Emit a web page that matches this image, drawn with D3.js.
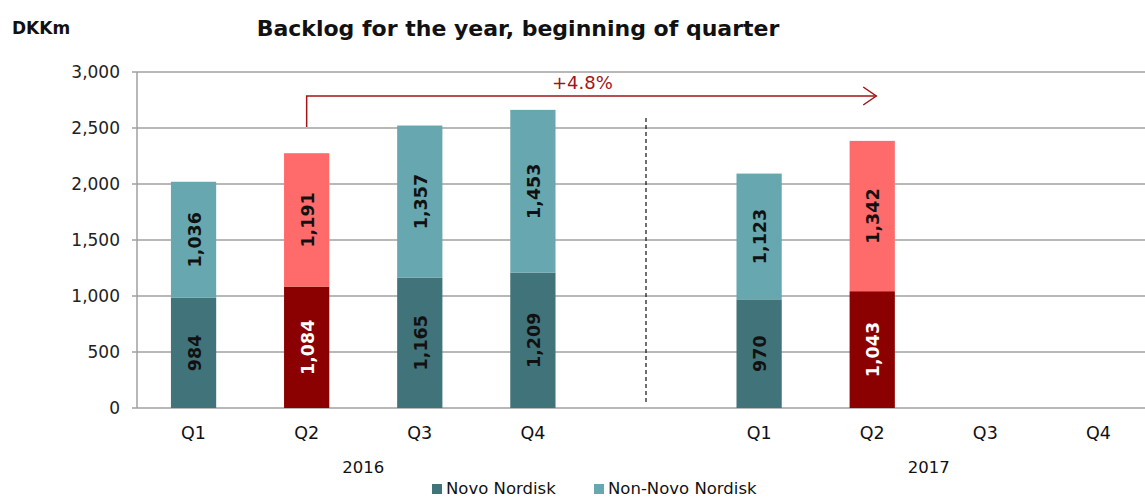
<!DOCTYPE html>
<html>
<head>
<meta charset="utf-8">
<script src="https://cdn.jsdelivr.net/npm/d3@7"></script>
<style>
  body { margin: 0; background: #fff; }
  svg { font-family: 'DejaVu Sans', Verdana, sans-serif; }
</style>
</head>
<body>
<svg width="1145" height="500"></svg>
<script>
const years = ['2016', '2017'];
const quarters = ['Q1', 'Q2', 'Q3', 'Q4'];
// slot keys, with an empty gap slot between the years
const slots = ['2016-Q1', '2016-Q2', '2016-Q3', '2016-Q4', 'gap',
  '2017-Q1', '2017-Q2', '2017-Q3', '2017-Q4'];
const barSlots = ['2016-Q1', '2016-Q2', '2016-Q3', '2016-Q4', '2017-Q1', '2017-Q2'];
const novo = [984, 1084, 1165, 1209, 970, 1043];
const nonNovo = [1036, 1191, 1357, 1453, 1123, 1342];
const highlight = ['2016-Q2', '2017-Q2'];
const yTicks = [0, 500, 1000, 1500, 2000, 2500, 3000];
const growthLabel = '+4.8%';

const svg = d3.select('svg');
const width = +svg.attr('width');

const margin = { top: 72, left: 137, right: 0 };
const plotBottom = 408;

const xScale = d3.scaleBand()
  .domain(slots)
  .range([margin.left, 1155])
  .paddingInner(0.6)
  .paddingOuter(0.3);

const center = k => xScale(k) + xScale.bandwidth() / 2;

const yScale = d3.scaleLinear()
  .domain([0, 3000])
  .range([plotBottom, margin.top]);

// grid lines
svg.append('g')
  .selectAll('line')
  .data(yTicks)
  .join('line')
  .attr('x1', margin.left - 5)
  .attr('x2', width)
  .attr('y1', d => yScale(d))
  .attr('y2', d => yScale(d))
  .attr('stroke', '#a0a0a0')
  .attr('stroke-width', 1.5);

// y axis line
svg.append('line')
  .attr('x1', margin.left).attr('x2', margin.left)
  .attr('y1', yScale(3000)).attr('y2', plotBottom)
  .attr('stroke', '#a0a0a0')
  .attr('stroke-width', 1.5);

const yAxis = d3.axisLeft(yScale)
  .tickValues(yTicks)
  .tickFormat(d3.format(','))
  .tickSize(0)
  .tickPadding(17);

const yAxisGroup = svg.append('g')
  .attr('transform', `translate(${margin.left}, 0)`)
  .call(yAxis);
yAxisGroup.select('.domain').remove();
yAxisGroup.selectAll('text')
  .attr('font-family', "'DejaVu Sans', Verdana, sans-serif")
  .attr('font-size', 17)
  .attr('fill', '#222');

// bars
const data = barSlots.map((k, i) => ({
  key: k,
  novo: novo[i],
  nonNovo: nonNovo[i],
  hi: highlight.includes(k)
}));

const bars = svg.append('g');
bars.selectAll('rect.novo')
  .data(data)
  .join('rect')
  .attr('class', 'novo')
  .attr('x', d => xScale(d.key))
  .attr('width', xScale.bandwidth())
  .attr('y', d => yScale(d.novo))
  .attr('height', d => yScale(0) - yScale(d.novo))
  .attr('fill', d => d.hi ? '#8b0000' : '#41737a');

bars.selectAll('rect.non')
  .data(data)
  .join('rect')
  .attr('class', 'non')
  .attr('x', d => xScale(d.key))
  .attr('width', xScale.bandwidth())
  .attr('y', d => yScale(d.novo + d.nonNovo))
  .attr('height', d => yScale(d.novo) - yScale(d.novo + d.nonNovo))
  .attr('fill', d => d.hi ? '#ff6b6b' : '#67a8b0');

const fmt = d3.format(',');
const addLabels = (cls, val, base, color) => {
  bars.selectAll('text.' + cls)
    .data(data)
    .join('text')
    .attr('class', cls)
    .attr('transform', d => {
      const cy = yScale(base(d) + val(d) / 2);
      return `translate(${center(d.key) + 7}, ${cy}) rotate(-90)`;
    })
    .attr('text-anchor', 'middle')
    .attr('font-size', 17.5)
    .attr('font-weight', 'bold')
    .attr('fill', color)
    .text(d => fmt(val(d)));
};
addLabels('lnovo', d => d.novo, () => 0, d => d.hi ? '#fff' : '#111');
addLabels('lnon', d => d.nonNovo, d => d.novo, '#111');

// divider between the years
svg.append('line')
  .attr('x1', center('gap')).attr('x2', center('gap'))
  .attr('y1', 118).attr('y2', 405)
  .attr('stroke', '#111')
  .attr('stroke-width', 1.2)
  .attr('stroke-dasharray', '4,3');

// growth arrow
const arrowColor = '#a31515';
const x0 = center('2016-Q2');
const x1 = center('2017-Q2') + 4;
const yTop = 96;
svg.append('path')
  .attr('d', `M${x0},${yScale(2500) - 1} V${yTop} H${x1}`)
  .attr('fill', 'none')
  .attr('stroke', arrowColor)
  .attr('stroke-width', 1.5);
svg.append('path')
  .attr('d', `M${x1 - 13},${yTop - 9} L${x1},${yTop} L${x1 - 13},${yTop + 9}`)
  .attr('fill', 'none')
  .attr('stroke', arrowColor)
  .attr('stroke-width', 1.5);
svg.append('text')
  .attr('x', (x0 + x1) / 2 - 9)
  .attr('y', 89)
  .attr('text-anchor', 'middle')
  .attr('font-size', 18)
  .attr('fill', arrowColor)
  .text(growthLabel);

// x axis labels
const xLabels = svg.append('g');
years.forEach(y => {
  quarters.forEach(q => {
    xLabels.append('text')
      .attr('x', center(`${y}-${q}`))
      .attr('y', 439)
      .attr('text-anchor', 'middle')
      .attr('font-size', 17.5)
      .attr('fill', '#111')
      .text(q);
  });
  xLabels.append('text')
    .attr('x', (center(`${y}-Q1`) + center(`${y}-Q4`)) / 2)
    .attr('y', 473)
    .attr('text-anchor', 'middle')
    .attr('font-size', 16.5)
    .attr('fill', '#111')
    .text(y);
});

// title and unit
svg.append('text')
  .attr('x', 518)
  .attr('y', 36)
  .attr('text-anchor', 'middle')
  .attr('font-size', 22)
  .attr('font-weight', 'bold')
  .attr('fill', '#111')
  .text('Backlog for the year, beginning of quarter');

svg.append('text')
  .attr('x', 12)
  .attr('y', 34)
  .attr('font-size', 17)
  .attr('font-weight', 'bold')
  .attr('fill', '#111')
  .text('DKKm');

// legend
const legendItems = [
  { label: 'Novo Nordisk', color: '#41737a', x: 432 },
  { label: 'Non-Novo Nordisk', color: '#67a8b0', x: 594 }
];
const legend = svg.append('g');
legend.selectAll('rect')
  .data(legendItems)
  .join('rect')
  .attr('x', d => d.x)
  .attr('y', 484)
  .attr('width', 10)
  .attr('height', 10)
  .attr('fill', d => d.color);
legend.selectAll('text')
  .data(legendItems)
  .join('text')
  .attr('x', d => d.x + 14)
  .attr('y', 494)
  .attr('font-size', 16.5)
  .attr('fill', '#111')
  .text(d => d.label);
</script>
</body>
</html>
